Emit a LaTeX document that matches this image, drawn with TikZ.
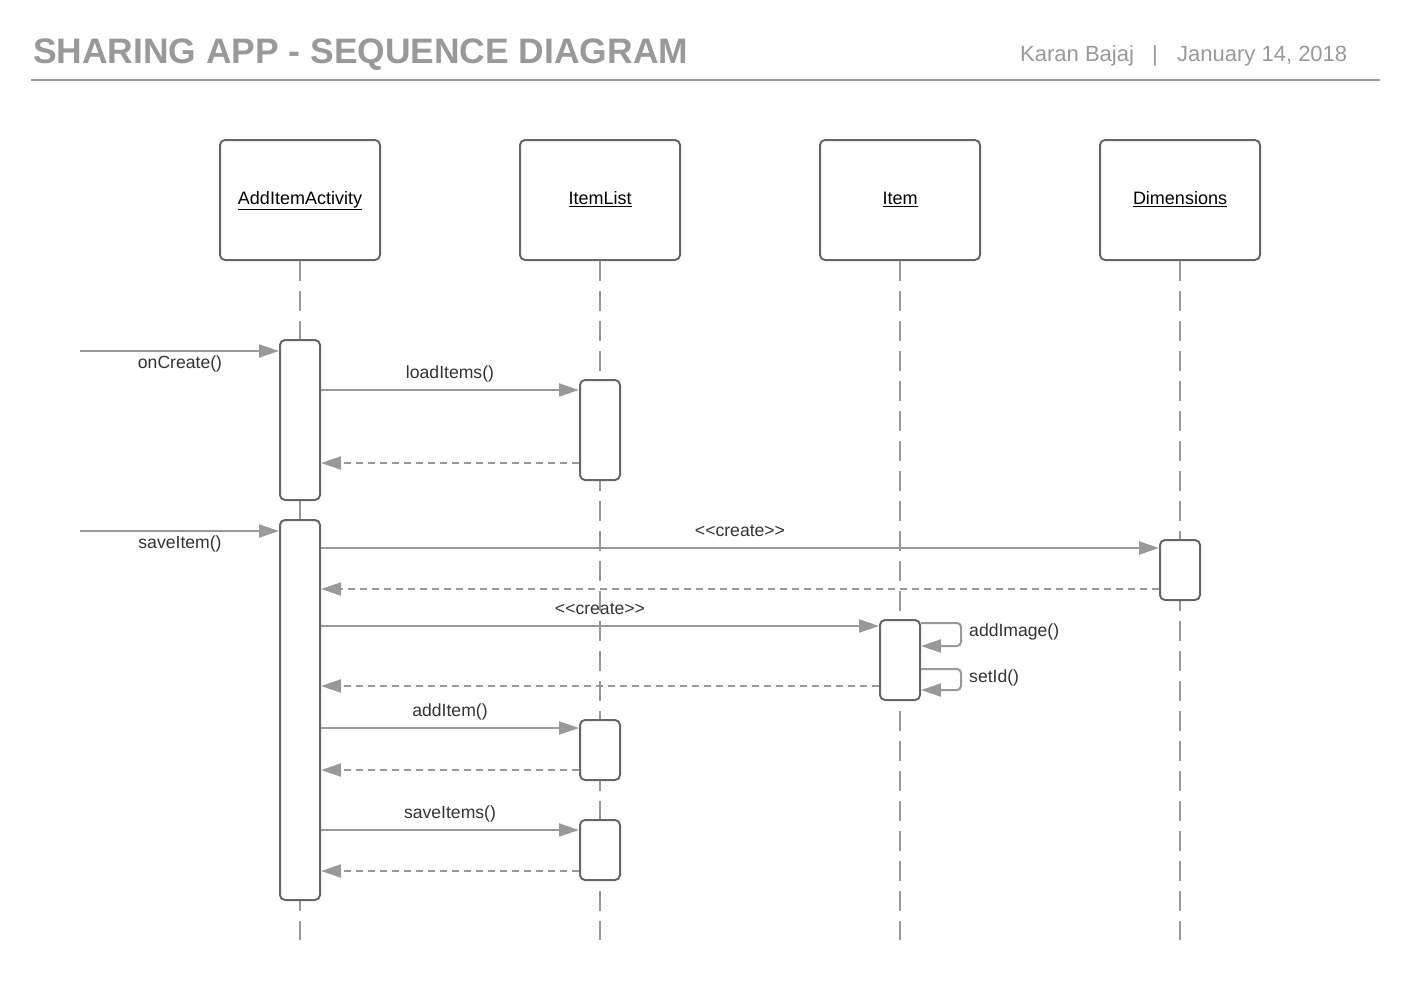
\documentclass[tikz,border=0pt]{standalone}
\usepackage{fontspec}
\setmainfont{Liberation Sans}
\usetikzlibrary{arrows.meta}
\definecolor{titlegray}{HTML}{999999}
\definecolor{linegray}{HTML}{999999}
\definecolor{boxgray}{HTML}{666666}
\definecolor{txt}{HTML}{333333}
\begin{document}
\begin{tikzpicture}[x=1pt,y=-1pt,
  head/.style={draw=boxgray, line width=2pt, fill=white, rounded corners=5pt,
    minimum width=160pt, minimum height=120pt, inner sep=0pt,
    text height=13pt, text depth=4pt,
    font=\fontsize{18}{20}\selectfont, text=black},
  act/.style={draw=boxgray, line width=2pt, fill=white, rounded corners=5pt,
    minimum width=40pt, inner sep=0pt},
  life/.style={draw=linegray, line width=2pt, dash pattern=on 20pt off 10pt},
  msg/.style={draw=linegray, line width=2pt, -{Triangle[length=20pt,width=13pt]}},
  ret/.style={msg, dash pattern=on 7pt off 5pt},
  lbl/.style={font=\fontsize{17.6}{20}\selectfont, text=txt, inner sep=0pt}
]
\useasboundingbox (0,0) rectangle (1420,980);
% header
\node[anchor=base west, inner sep=0pt, text=titlegray, font=\bfseries\fontsize{35.4}{40}\selectfont] (title) at (33,63) {SHARING APP - SEQUENCE DIAGRAM};
\node[anchor=base west, inner sep=0pt, text=titlegray, font=\fontsize{22}{26}\selectfont] (author) at (1020,61) {Karan Bajaj};
\node[anchor=base, inner sep=0pt, text=titlegray, font=\fontsize{22}{26}\selectfont] (sep) at (1155,61) {|};
\node[anchor=base west, inner sep=0pt, text=titlegray, font=\fontsize{22}{26}\selectfont] (date) at (1177,61) {January 14, 2018};
\coordinate (hl) at (31,80);
\coordinate (hr) at (1380,80);
\draw[linegray, line width=2pt] (hl) -- (hr);
% heads
\node[head] (AIA) at (300,200) {\underline{AddItemActivity}};
\node[head] (IL) at (600,200) {\underline{ItemList}};
\node[head] (IT) at (900,200) {\underline{Item}};
\node[head] (DM) at (1180,200) {\underline{Dimensions}};
% lifeline ends
\coordinate (AIAe) at (300,940);
\coordinate (ILe) at (600,940);
\coordinate (ITe) at (900,940);
\coordinate (DMe) at (1180,940);
\draw[life] (AIA.south) -- (AIAe);
\draw[life] (IL.south) -- (ILe);
\draw[life] (IT.south) -- (ITe);
\draw[life] (DM.south) -- (DMe);
% activations
\node[act, minimum height=160pt] (A1) at (300,420) {};
\node[act, minimum height=380pt] (A2) at (300,710) {};
\node[act, minimum height=100pt] (L1) at (600,430) {};
\node[act, minimum height=60pt] (D1) at (1180,570) {};
\node[act, minimum height=80pt] (I1) at (900,660) {};
\node[act, minimum height=60pt] (L2) at (600,750) {};
\node[act, minimum height=60pt] (L3) at (600,850) {};
% external starts
\coordinate (s1) at (80,351);
\coordinate (s2) at (80,531);
% messages
\draw[msg] (s1) -- (A1.west |- s1);
\node[lbl] (t1) at (180,364) {onCreate()};
\draw[msg] (A1.east |- 0,390) -- (L1.west |- 0,390);
\node[lbl] (t2) at (450,374) {loadItems()};
\draw[ret] (L1.west |- 0,463) -- (A1.east |- 0,463);
\draw[msg] (s2) -- (A2.west |- s2);
\node[lbl] (t3) at (180,544) {saveItem()};
\draw[msg] (A2.east |- 0,548) -- (D1.west |- 0,548);
\node[lbl] (t4) at (740,531) {<{}<create>{}>};
\draw[ret] (D1.west |- 0,589) -- (A2.east |- 0,589);
\draw[msg] (A2.east |- 0,626) -- (I1.west |- 0,626);
\node[lbl] (t5) at (600,609) {<{}<create>{}>};
\draw[ret] (I1.west |- 0,686) -- (A2.east |- 0,686);
\draw[msg, rounded corners=4pt] (I1.east |- 0,623) -- ++(40,0) -- ++(0,23) -- (I1.east |- 0,646);
\node[lbl, anchor=west] (t6) at (969,632) {addImage()};
\draw[msg, rounded corners=4pt] (I1.east |- 0,669) -- ++(40,0) -- ++(0,21) -- (I1.east |- 0,690);
\node[lbl, anchor=west] (t7) at (969,678) {setId()};
\draw[msg] (A2.east |- 0,728) -- (L2.west |- 0,728);
\node[lbl] (t8) at (450,712) {addItem()};
\draw[ret] (L2.west |- 0,770) -- (A2.east |- 0,770);
\draw[msg] (A2.east |- 0,830) -- (L3.west |- 0,830);
\node[lbl] (t9) at (450,814) {saveItems()};
\draw[ret] (L3.west |- 0,871) -- (A2.east |- 0,871);
\end{tikzpicture}
\end{document}
